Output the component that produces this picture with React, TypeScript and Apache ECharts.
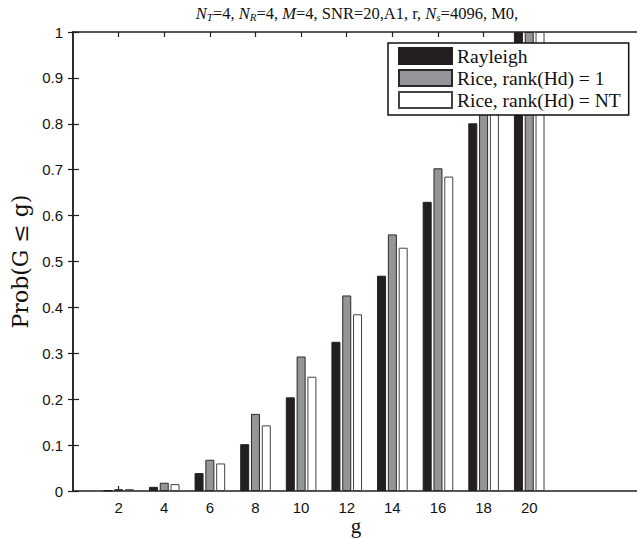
import React, { useEffect, useRef } from "react";
import * as echarts from "echarts";

const gValues = [2, 4, 6, 8, 10, 12, 14, 16, 18, 20];
const rayleigh = [0.001, 0.009, 0.039, 0.102, 0.204, 0.325, 0.469, 0.63, 0.801, 1.0];
const riceRank1 = [0.004, 0.018, 0.068, 0.168, 0.293, 0.426, 0.559, 0.703, 0.89, 1.0];
const riceRankNT = [0.004, 0.015, 0.06, 0.143, 0.249, 0.385, 0.53, 0.685, 0.86, 1.0];
const seriesNames = ["Rayleigh", "Rice, rank(Hd) = 1", "Rice, rank(Hd) = NT"];
const yTicks = [0, 0.1, 0.2, 0.3, 0.4, 0.5, 0.6, 0.7, 0.8, 0.9, 1];

const AXIS = "#231f20";
const SERIF = "'Liberation Serif', 'DejaVu Serif', serif";
const SANS = "'Liberation Sans', Arial, sans-serif";

export default function App() {
  const ref = useRef<HTMLDivElement>(null);
  useEffect(() => {
    if (!ref.current) return;
    const chart = echarts.init(ref.current, null, { renderer: "svg" });
    const mk = (name: string, vals: number[], color: string, border: string) => ({
      name,
      type: "bar",
      barWidth: 9,
      barGap: "20%",
      data: gValues.map((g, i) => [g, vals[i]]),
      itemStyle: { color, borderColor: border, borderWidth: 1 },
    });
    const tickStyle = { color: AXIS, width: 1.2 };
    chart.setOption({
      animation: false,
      grid: { left: 73, right: -4, top: 32, bottom: 48, containLabel: false, outerBoundsMode: "none" },
      xAxis: [
        {
          type: "value",
          min: 0,
          max: 24.9,
          interval: 2,
          splitLine: { show: false },
          axisLine: { show: true, onZero: false, lineStyle: { color: AXIS, width: 1.5 } },
          axisTick: { show: true, inside: true, length: 5, customValues: gValues, lineStyle: tickStyle },
          axisLabel: { customValues: gValues, color: "#111", fontFamily: SANS, fontSize: 15, lineHeight: 15, margin: 9 },
        },
        {
          type: "value",
          position: "top",
          min: 0,
          max: 24.9,
          interval: 2,
          splitLine: { show: false },
          axisLine: { show: true, onZero: false, lineStyle: { color: AXIS, width: 1.5 } },
          axisTick: { show: true, inside: true, length: 5, customValues: gValues, lineStyle: tickStyle },
          axisLabel: { show: false, customValues: gValues },
        },
      ],
      yAxis: [
        {
          type: "value",
          min: 0,
          max: 1,
          interval: 0.1,
          splitLine: { show: false },
          axisLine: { show: true, lineStyle: { color: AXIS, width: 1.5 } },
          axisTick: { show: true, inside: true, length: 6, lineStyle: tickStyle },
          axisLabel: {
            color: "#111",
            fontFamily: SANS,
            fontSize: 15,
            margin: 10,
            customValues: yTicks,
            formatter: (v: number) => String(Math.round(v * 10) / 10),
          },
          name: "Prob(G ≤ g)",
          nameLocation: "middle",
          nameRotate: 90,
          nameGap: 39,
          nameTextStyle: { fontFamily: "'DejaVu Serif', serif", fontSize: 22, color: "#111" },
        },
        {
          type: "value",
          position: "right",
          min: 0,
          max: 1,
          interval: 0.1,
          splitLine: { show: false },
          axisLine: { show: true, lineStyle: { color: AXIS, width: 1.5 } },
          axisTick: { show: true, inside: true, length: 5, lineStyle: tickStyle },
          axisLabel: { show: false },
        },
      ],
      legend: {
        orient: "vertical",
        left: 388,
        top: 43,
        icon: "rect",
        itemWidth: 53,
        itemHeight: 16,
        itemGap: 2,
        padding: [3, 8, 5, 10],
        borderColor: "#111",
        borderWidth: 1.5,
        backgroundColor: "#fff",
        textStyle: { fontFamily: SERIF, fontSize: 19.5, lineHeight: 17, color: "#111" },
        data: seriesNames,
      },
      graphic: [
        {
          type: "text",
          x: 357,
          y: 13,
          style: {
            text:
              "{i|N}{s|T}{n|=4, }{i|N}{s|R}{n|=4, }{i|M}{n|=4, SNR=20,A1, r, }{i|N}{s|s}{n|=4096, M0,}",
            align: "center",
            verticalAlign: "middle",
            rich: {
              n: { fontFamily: SERIF, fontSize: 16.5, fill: "#111", lineHeight: 18, verticalAlign: "middle" },
              i: { fontFamily: SERIF, fontSize: 16.5, fontStyle: "italic", fill: "#111", lineHeight: 18, verticalAlign: "middle" },
              s: { fontFamily: SERIF, fontSize: 11, fontStyle: "italic", fill: "#111", lineHeight: 10, verticalAlign: "bottom", padding: [6, 0, 0, 0] },
            },
          },
        },
        {
          type: "text",
          x: 356,
          y: 526,
          style: {
            text: "g",
            align: "center",
            verticalAlign: "middle",
            fontFamily: SERIF,
            fontSize: 21,
            lineHeight: 21,
            fill: "#111",
          },
        },
      ],
      series: [
        mk(seriesNames[0], rayleigh, "#231f20", "#231f20"),
        mk(seriesNames[1], riceRank1, "#939598", "#2a2a2a"),
        mk(seriesNames[2], riceRankNT, "#ffffff", "#444"),
      ],
    });
    return () => chart.dispose();
  }, []);
  return <div ref={ref} style={{ width: 637, height: 539, position: "absolute", left: 0, top: 0, background: "#fff" }} />;
}
